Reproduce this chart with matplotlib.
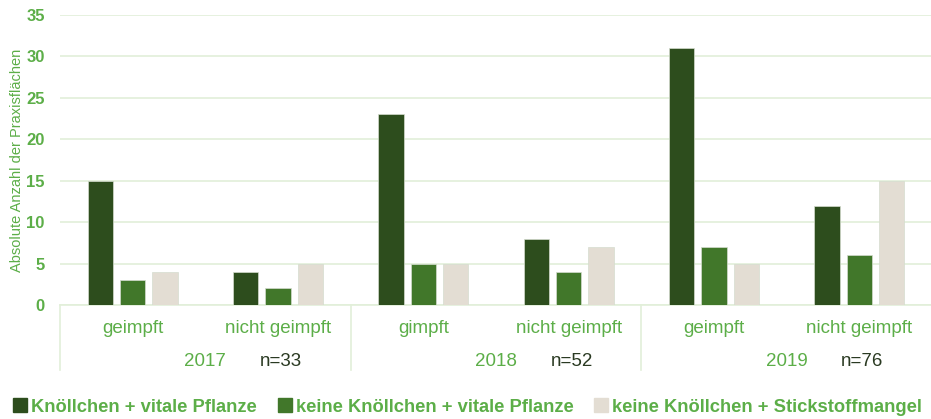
import matplotlib
matplotlib.use("Agg")
import matplotlib.pyplot as plt
from matplotlib.lines import Line2D
import numpy as np

plt.rcParams['font.family'] = ['Liberation Sans', 'DejaVu Sans']

categories = ["geimpft", "nicht geimpft", "gimpft", "nicht geimpft", "geimpft", "nicht geimpft"]
years = ["2017", "2018", "2019"]
n_labels = ["n=33", "n=52", "n=76"]
series_names = ["Knöllchen + vitale Pflanze", "keine Knöllchen + vitale Pflanze",
                "keine Knöllchen + Stickstoffmangel"]
knoellchen_vital = [15, 4, 23, 8, 31, 12]
keine_vital = [3, 2, 5, 4, 7, 6]
keine_stickstoff = [4, 5, 5, 7, 5, 15]
colors = ["#2d4d1d", "#41772a", "#e3ddd3"]
green_text = "#5cae48"
grid_col = "#e2efd9"

fig = plt.figure(figsize=(9.31, 4.19), dpi=100)
ax = fig.add_axes([60/931, 1-305/419, 872/931, 290/419])

x = np.arange(len(categories))
w = 0.175
off = 0.222
for i, (vals, c) in enumerate(zip([knoellchen_vital, keine_vital, keine_stickstoff], colors)):
    ax.bar(x + (i-1)*off, vals, width=w, color=c, edgecolor="#d5dccf", linewidth=0.5, zorder=3)

ax.set_xlim(-0.5, len(categories)-0.5)
ax.set_ylim(0, 35)
ax.set_yticks(range(0, 36, 5))
ax.yaxis.grid(True, color=grid_col, linewidth=1.2, zorder=0)
ax.set_axisbelow(True)
for s in ["top", "right", "left"]:
    ax.spines[s].set_visible(False)
ax.spines["bottom"].set_color(grid_col)
ax.spines["bottom"].set_linewidth(1.2)
ax.tick_params(axis="y", length=0, labelsize=12, labelcolor=green_text, pad=11)
for lab in ax.get_yticklabels():
    lab.set_fontweight("bold")
ax.set_xticks(x)
ax.set_xticklabels(categories, fontsize=13.5, color=green_text)
ax.tick_params(axis="x", length=0, pad=11)
ax.set_ylabel("Absolute Anzahl der Praxisflächen", fontsize=10.5, color=green_text)
ax.yaxis.set_label_coords(-36/872, 0.5)

trans = ax.get_xaxis_transform()
for b in [-0.5, 1.5, 3.5, 5.5]:
    ax.plot([b, b], [0, -65/290], transform=trans, color=grid_col, linewidth=1.2, clip_on=False)
for g in range(3):
    ax.text(2*g + 0.5, -56/290, years[g], transform=trans, ha="center", va="center",
            fontsize=13.5, color=green_text)
    ax.text(2*g + 0.5 + 0.52, -56/290, n_labels[g], transform=trans, ha="center", va="center",
            fontsize=13.5, color="#2a3a22")

handles = [Line2D([0], [0], marker="s", linestyle="none", markersize=9.5,
                  markerfacecolor=c, markeredgecolor=c) for c in colors]
leg = fig.legend(handles, series_names, loc="center", bbox_to_anchor=(0.502, 0.028), ncol=3,
                 frameon=False, handletextpad=0.2, columnspacing=1.1, handlelength=0.8,
                 prop={"size": 13.2, "weight": "bold"})
for t in leg.get_texts():
    t.set_color(green_text)

fig.savefig("out.png", dpi=100)
